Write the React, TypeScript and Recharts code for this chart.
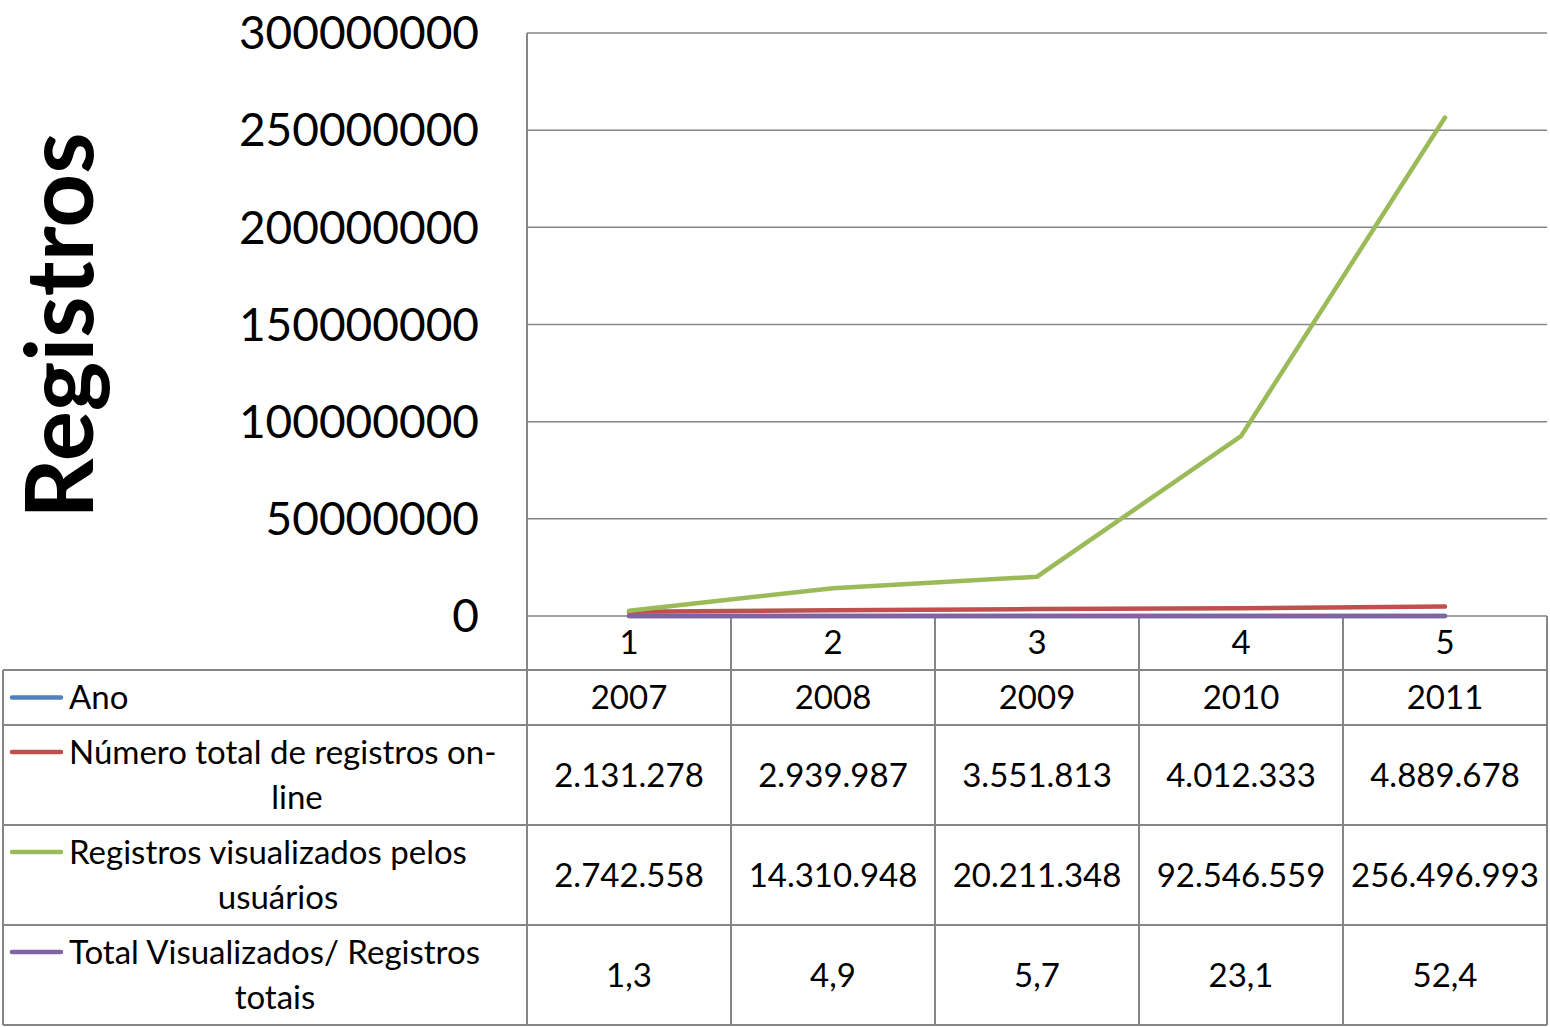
import { CartesianGrid, Customized, Line, LineChart, XAxis, YAxis } from 'recharts';

const categories = ['1', '2', '3', '4', '5'];
const anos = [2007, 2008, 2009, 2010, 2011];
const registrosOnline = [2131278, 2939987, 3551813, 4012333, 4889678];
const registrosVisualizados = [2742558, 14310948, 20211348, 92546559, 256496993];
const razaoVisualizados = [1.3, 4.9, 5.7, 23.1, 52.4];
const yTicks = [0, 50000000, 100000000, 150000000, 200000000, 250000000, 300000000];
const yTitle = 'Registros';

const W = 1550;
const H = 1027;
const PLOT_LEFT = 527;
const PLOT_RIGHT = 1547;
const PLOT_TOP = 33;
const PLOT_BOTTOM = 616;
const TABLE_LEFT = 3;
const ROW_Y = [670, 725, 825, 925, 1025];
const GRID = '#868686';
const FONT = 'Lato, "Open Sans", sans-serif';
const TABLE_FS = 33;

const series = [
  { key: 'ano', color: '#4F81BD', lines: ['Ano'], values: anos, fmt: (v: number) => String(v) },
  {
    key: 'online',
    color: '#C0504D',
    lines: ['Número total de registros on-', 'line'],
    centers: [0, 297],
    values: registrosOnline,
    fmt: (v: number) => dots(v),
  },
  {
    key: 'visualizados',
    color: '#9BBB59',
    lines: ['Registros visualizados pelos', 'usuários'],
    centers: [0, 278],
    values: registrosVisualizados,
    fmt: (v: number) => dots(v),
  },
  {
    key: 'razao',
    color: '#8064A2',
    lines: ['Total Visualizados/ Registros', 'totais'],
    centers: [0, 275],
    values: razaoVisualizados,
    fmt: (v: number) => v.toFixed(1).replace('.', ','),
  },
];

function dots(v: number): string {
  return String(v).replace(/\B(?=(\d{3})+(?!\d))/g, '.');
}

const data = categories.map((c, i) => ({
  cat: c,
  ano: anos[i],
  online: registrosOnline[i],
  visualizados: registrosVisualizados[i],
  razao: razaoVisualizados[i],
}));

function YTitle() {
  const x = 93;
  const y = (PLOT_TOP + PLOT_BOTTOM) / 2 + 1;
  return (
    <text
      x={x}
      y={y}
      transform={`rotate(-90, ${x}, ${y})`}
      textAnchor="middle"
      fontSize={94}
      fontWeight={700}
      fontFamily={FONT}
      fill="#000"
    >
      {yTitle}
    </text>
  );
}

function DataTable() {
  const colW = (PLOT_RIGHT - PLOT_LEFT) / categories.length;
  const bottom = ROW_Y[ROW_Y.length - 1];
  const els: any[] = [];
  // horizontal rules
  ROW_Y.forEach((y, i) => {
    els.push(<line key={'h' + i} x1={TABLE_LEFT} x2={PLOT_RIGHT} y1={y} y2={y} stroke={GRID} strokeWidth={2} />);
  });
  els.push(<line key="vl" x1={TABLE_LEFT} x2={TABLE_LEFT} y1={ROW_Y[0]} y2={bottom} stroke={GRID} strokeWidth={2} />);
  for (let i = 0; i <= categories.length; i++) {
    const x = PLOT_LEFT + i * colW;
    els.push(<line key={'v' + i} x1={x} x2={x} y1={PLOT_BOTTOM} y2={bottom} stroke={GRID} strokeWidth={2} />);
  }
  series.forEach((s, r) => {
    const top = ROW_Y[r];
    const h = ROW_Y[r + 1] - top;
    const mid = top + h / 2;
    const two = s.lines.length > 1;
    const l1 = two ? top + h / 2 - 23 : mid;
    els.push(
      <line key={'lg' + r} x1={12} x2={61} y1={l1} y2={l1} stroke={s.color} strokeWidth={4.5} strokeLinecap="round" />,
    );
    els.push(
      <text key={'t1' + r} x={69} y={l1} dy="0.35em" fontSize={TABLE_FS} fontFamily={FONT} fill="#000">
        {s.lines[0]}
      </text>,
    );
    if (two) {
      els.push(
        <text
          key={'t2' + r}
          x={s.centers![1]}
          y={l1 + 45}
          dy="0.35em"
          fontSize={TABLE_FS}
          fontFamily={FONT}
          fill="#000"
          textAnchor="middle"
        >
          {s.lines[1]}
        </text>,
      );
    }
    s.values.forEach((v, i) => {
      els.push(
        <text
          key={'c' + r + '-' + i}
          x={PLOT_LEFT + (i + 0.5) * colW}
          y={mid}
          dy="0.35em"
          fontSize={TABLE_FS}
          fontFamily={FONT}
          fill="#000"
          textAnchor="middle"
        >
          {s.fmt(v)}
        </text>,
      );
    });
  });
  return <g>{els}</g>;
}

export default function App() {
  const colW = (PLOT_RIGHT - PLOT_LEFT) / categories.length;
  return (
    <div style={{ position: 'absolute', left: 0, top: 0, width: W, height: H, background: '#fff' }}>
      <LineChart
        width={W}
        height={H}
        data={data}
        margin={{ top: PLOT_TOP, right: W - PLOT_RIGHT, left: 0, bottom: H - PLOT_BOTTOM - 54 }}
      >
        <CartesianGrid vertical={false} stroke={GRID} strokeWidth={1.5} />
        <XAxis
          dataKey="cat"
          height={54}
          padding={{ left: colW / 2, right: colW / 2 }}
          axisLine={false}
          tickLine={false}
          tickMargin={9}
          tick={{ fontSize: TABLE_FS, fontFamily: FONT, fill: '#000' }}
        />
        <YAxis
          width={PLOT_LEFT}
          domain={[0, 300000000]}
          ticks={yTicks}
          interval={0}
          tickFormatter={(v: number) => String(v)}
          axisLine={{ stroke: GRID, strokeWidth: 2 }}
          tickLine={false}
          tickMargin={42}
          tick={{ fontSize: 46, fontFamily: FONT, fill: '#000' }}
        />
        {series.map((s) => (
          <Line
            key={s.key}
            dataKey={s.key}
            type="linear"
            stroke={s.color}
            strokeWidth={4.5}
            strokeLinecap="round"
            dot={false}
            isAnimationActive={false}
          />
        ))}
        <Customized component={<YTitle />} />
        <Customized component={<DataTable />} />
      </LineChart>
    </div>
  );
}
